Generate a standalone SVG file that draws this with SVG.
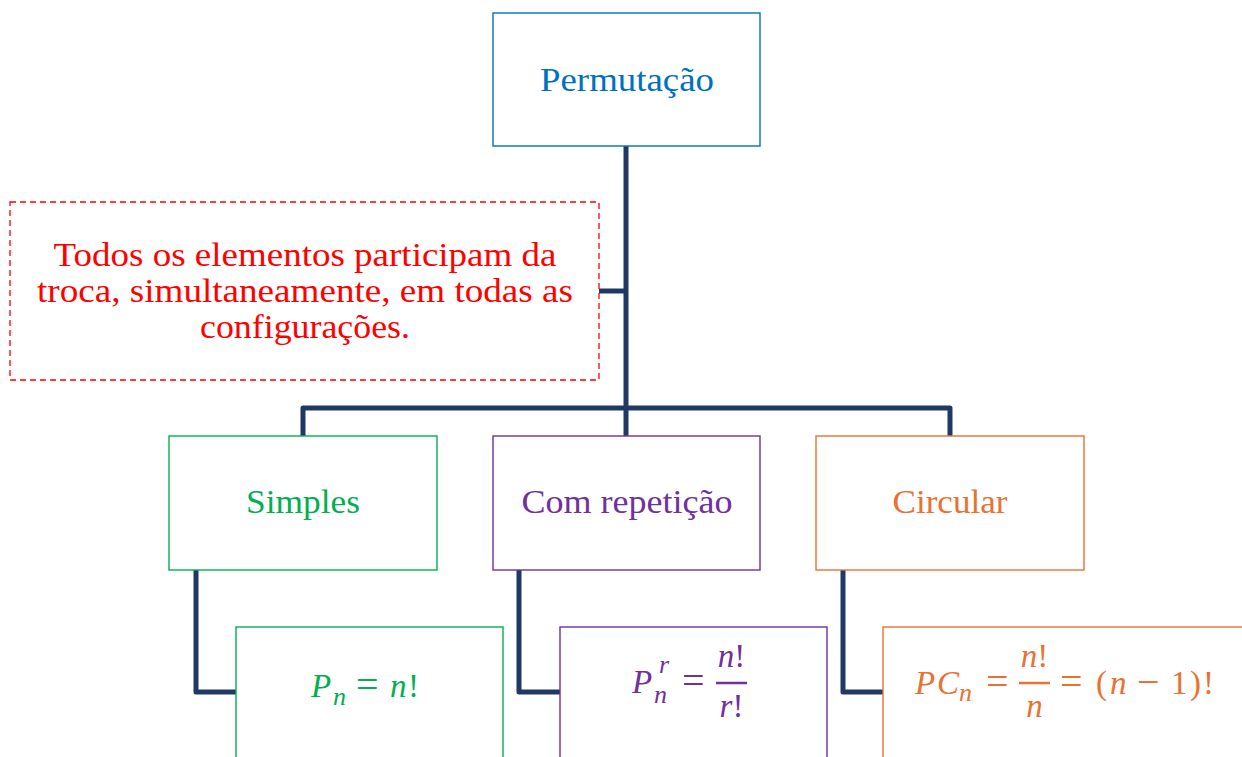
<svg xmlns="http://www.w3.org/2000/svg" width="1242" height="757" viewBox="0 0 1242 757">
<style>
.lbl{font-family:"Liberation Serif","Times New Roman",serif;font-size:34px;text-anchor:middle}
.m{font-family:"Liberation Serif","Times New Roman",serif;font-size:33px}
.i{font-style:italic}
.s{font-size:26px}
.op{font-size:40px}
.box{fill:#fff;stroke-width:1.4}
.conn{fill:none;stroke:#1F3864;stroke-width:5;stroke-linejoin:round;stroke-linecap:butt}
</style>
<rect width="1242" height="757" fill="#fff"/>
<g id="connectors">
<path class="conn" d="M626,146 V408"/>
<path class="conn" d="M626,291 H599"/>
<path class="conn" d="M303,436 V408 H950 V436"/>
<path class="conn" d="M626,406 V436"/>
<path class="conn" d="M196,570 V692 H236"/>
<path class="conn" d="M519,570 V692 H560"/>
<path class="conn" d="M843,570 V692 H883"/>
</g>
<g id="permutacao">
<rect class="box" x="493" y="13" width="267" height="133" stroke="#0070C0"/>
<text class="lbl" x="627" y="91" fill="#0070C0" textLength="174" lengthAdjust="spacingAndGlyphs">Permutação</text>
</g>
<g id="nota">
<rect x="10" y="202" width="589" height="178" fill="#fff" stroke="#FF0000" stroke-width="1.3" stroke-dasharray="6 4"/>
<text class="lbl" fill="#FF0000" x="305" y="266" textLength="503" lengthAdjust="spacingAndGlyphs">Todos os elementos participam da</text>
<text class="lbl" fill="#FF0000" x="305" y="302" textLength="536" lengthAdjust="spacingAndGlyphs">troca, simultaneamente, em todas as</text>
<text class="lbl" fill="#FF0000" x="305" y="338" textLength="210" lengthAdjust="spacingAndGlyphs">configurações.</text>
</g>
<g id="simples">
<rect class="box" x="169" y="436" width="268" height="134" stroke="#00B050"/>
<text class="lbl" x="303" y="513" fill="#00B050" textLength="114" lengthAdjust="spacingAndGlyphs">Simples</text>
</g>
<g id="com-repeticao">
<rect class="box" x="493" y="436" width="267" height="134" stroke="#7030A0"/>
<text class="lbl" x="627" y="513" fill="#7030A0" textLength="211" lengthAdjust="spacingAndGlyphs">Com repetição</text>
</g>
<g id="circular">
<rect class="box" x="816" y="436" width="268" height="134" stroke="#E97132"/>
<text class="lbl" x="950" y="513" fill="#E97132" textLength="115" lengthAdjust="spacingAndGlyphs">Circular</text>
</g>
<g id="formula-simples" fill="#00B050">
<rect class="box" x="236" y="627" width="267" height="200" stroke="#00B050"/>
<text class="m i" x="311" y="697">P</text>
<text class="m i s" x="333" y="705">n</text>
<text class="m op" x="356" y="698">=</text>
<text class="m i" x="390" y="697">n</text>
<text class="m" x="408" y="697">!</text>
</g>
<g id="formula-repeticao" fill="#7030A0">
<rect class="box" x="560" y="627" width="267" height="200" stroke="#7030A0"/>
<text class="m i" x="632" y="693">P</text>
<text class="m i s" x="659" y="673">r</text>
<text class="m i s" x="654" y="703">n</text>
<text class="m op" x="682" y="694">=</text>
<line x1="716" y1="683" x2="747" y2="683" stroke="#7030A0" stroke-width="2.5"/>
<text class="m" x="731.5" y="667" text-anchor="middle"><tspan class="i">n</tspan>!</text>
<text class="m" x="731.5" y="717" text-anchor="middle"><tspan class="i">r</tspan>!</text>
</g>
<g id="formula-circular" fill="#E97132">
<rect class="box" x="883" y="627" width="400" height="200" stroke="#E97132"/>
<text class="m i" x="915" y="694">P</text>
<text class="m i" x="937" y="694">C</text>
<text class="m i s" x="959" y="701">n</text>
<text class="m op" x="986" y="695">=</text>
<line x1="1019" y1="683" x2="1050" y2="683" stroke="#E97132" stroke-width="2.5"/>
<text class="m" x="1034.5" y="667" text-anchor="middle"><tspan class="i">n</tspan>!</text>
<text class="m i" x="1034.5" y="717" text-anchor="middle">n</text>
<text class="m op" x="1060" y="695">=</text>
<text class="m" x="1096" y="694">(</text>
<text class="m i" x="1110" y="694">n</text>
<text class="m op" x="1137" y="695">−</text>
<text class="m" x="1171" y="694">1</text>
<text class="m" x="1190" y="694">)</text>
<text class="m" x="1203" y="694">!</text>
</g>
</svg>
